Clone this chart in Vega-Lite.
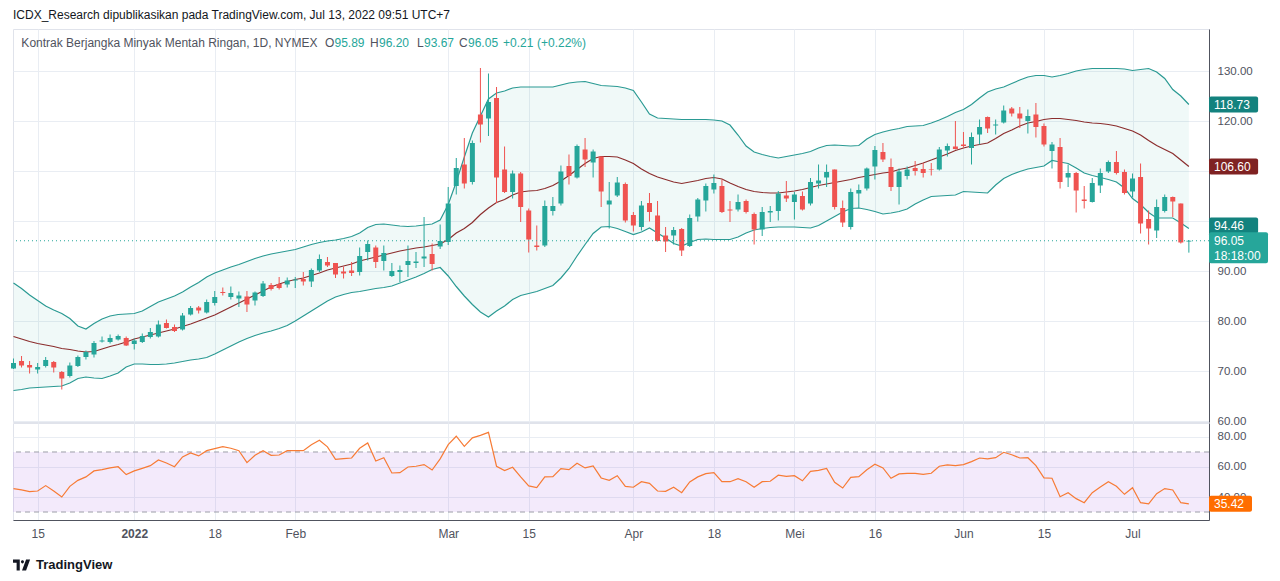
{
  "$schema": "https://vega.github.io/schema/vega-lite/v6.json",
  "autosize": {"type": "pad"},
  "padding": {"left": 10, "top": 8, "right": 15, "bottom": 10},
  "background": "white",
  "bounds": "flush",
  "spacing": 1,
  "config": {
    "font": "Liberation Sans",
    "view": {"stroke": "#e0e3eb"},
    "axis": {
      "gridColor": "#e9edf3",
      "labelColor": "#50535e",
      "labelFontSize": 11.5,
      "ticks": false,
      "tickSize": 0,
      "domainColor": "#50535e"
    }
  },
  "datasets": {
    "bars": [
      {"d":"2021-12-10","i":0,"o":70.5,"h":72.5,"l":70.4,"c":71.6,"up":87.6,"mid":76.9,"lo":66.1,"rsi":45.6},
      {"d":"2021-12-13","i":1,"o":72.0,"h":73.0,"l":70.7,"c":71.1,"up":86.5,"mid":76.4,"lo":66.3,"rsi":44.7},
      {"d":"2021-12-14","i":2,"o":71.2,"h":72.0,"l":69.5,"c":70.7,"up":85.2,"mid":75.9,"lo":66.6,"rsi":43.6},
      {"d":"2021-12-15","i":3,"o":70.3,"h":71.6,"l":69.5,"c":70.8,"up":84.1,"mid":75.5,"lo":66.7,"rsi":44.0},
      {"d":"2021-12-16","i":4,"o":71.0,"h":72.8,"l":70.7,"c":72.2,"up":83.0,"mid":75.2,"lo":66.8,"rsi":47.6},
      {"d":"2021-12-17","i":5,"o":71.8,"h":72.0,"l":69.7,"c":70.7,"up":82.2,"mid":74.9,"lo":66.9,"rsi":44.0},
      {"d":"2021-12-20","i":6,"o":69.8,"h":70.0,"l":66.3,"c":68.5,"up":81.5,"mid":74.5,"lo":67.0,"rsi":40.0},
      {"d":"2021-12-21","i":7,"o":69.0,"h":71.7,"l":68.7,"c":71.1,"up":80.5,"mid":74.3,"lo":67.6,"rsi":47.1},
      {"d":"2021-12-22","i":8,"o":71.0,"h":73.1,"l":70.8,"c":72.8,"up":79.0,"mid":74.0,"lo":68.5,"rsi":51.1},
      {"d":"2021-12-23","i":9,"o":72.8,"h":74.1,"l":72.3,"c":73.8,"up":78.4,"mid":73.8,"lo":68.8,"rsi":53.4},
      {"d":"2021-12-27","i":10,"o":73.3,"h":76.0,"l":72.7,"c":75.6,"up":79.5,"mid":73.9,"lo":68.6,"rsi":57.4},
      {"d":"2021-12-28","i":11,"o":75.9,"h":76.9,"l":75.7,"c":76.1,"up":80.4,"mid":74.4,"lo":68.5,"rsi":58.2},
      {"d":"2021-12-29","i":12,"o":75.8,"h":77.3,"l":75.5,"c":76.6,"up":81.0,"mid":74.9,"lo":69.0,"rsi":59.4},
      {"d":"2021-12-30","i":13,"o":76.3,"h":77.3,"l":76.1,"c":77.0,"up":81.3,"mid":75.3,"lo":69.6,"rsi":60.2},
      {"d":"2021-12-31","i":14,"o":76.6,"h":76.9,"l":75.0,"c":75.1,"up":81.4,"mid":75.8,"lo":70.8,"rsi":54.9},
      {"d":"2022-01-03","i":15,"o":75.4,"h":76.5,"l":74.3,"c":76.1,"up":81.5,"mid":76.4,"lo":71.4,"rsi":57.4},
      {"d":"2022-01-04","i":16,"o":75.8,"h":77.5,"l":75.6,"c":77.0,"up":82.0,"mid":76.8,"lo":71.4,"rsi":59.1},
      {"d":"2022-01-05","i":17,"o":76.8,"h":78.6,"l":76.5,"c":77.8,"up":82.9,"mid":77.2,"lo":71.3,"rsi":60.9},
      {"d":"2022-01-06","i":18,"o":76.9,"h":80.1,"l":76.7,"c":79.3,"up":83.8,"mid":77.6,"lo":71.3,"rsi":64.7},
      {"d":"2022-01-07","i":19,"o":79.6,"h":80.3,"l":78.5,"c":78.6,"up":84.4,"mid":78.0,"lo":71.4,"rsi":62.7},
      {"d":"2022-01-10","i":20,"o":78.8,"h":79.3,"l":77.8,"c":78.0,"up":85.0,"mid":78.4,"lo":71.6,"rsi":60.2},
      {"d":"2022-01-11","i":21,"o":78.3,"h":81.6,"l":78.1,"c":81.1,"up":85.8,"mid":78.9,"lo":71.9,"rsi":66.7},
      {"d":"2022-01-12","i":22,"o":81.3,"h":83.0,"l":81.1,"c":82.6,"up":86.8,"mid":79.4,"lo":72.2,"rsi":69.4},
      {"d":"2022-01-13","i":23,"o":82.7,"h":83.0,"l":81.5,"c":82.1,"up":87.7,"mid":80.0,"lo":72.4,"rsi":67.4},
      {"d":"2022-01-14","i":24,"o":81.7,"h":84.3,"l":81.5,"c":83.8,"up":88.8,"mid":80.6,"lo":72.7,"rsi":70.9},
      {"d":"2022-01-18","i":25,"o":83.6,"h":86.0,"l":83.1,"c":84.8,"up":89.6,"mid":81.2,"lo":73.4,"rsi":72.2},
      {"d":"2022-01-19","i":26,"o":85.8,"h":86.7,"l":85.1,"c":85.6,"up":90.2,"mid":82.0,"lo":74.2,"rsi":73.6},
      {"d":"2022-01-20","i":27,"o":84.8,"h":86.9,"l":84.3,"c":85.6,"up":90.8,"mid":82.8,"lo":75.0,"rsi":72.5},
      {"d":"2022-01-21","i":28,"o":84.5,"h":85.9,"l":82.8,"c":85.1,"up":91.3,"mid":83.6,"lo":75.8,"rsi":70.9},
      {"d":"2022-01-24","i":29,"o":84.9,"h":86.0,"l":81.8,"c":83.3,"up":91.9,"mid":84.4,"lo":76.5,"rsi":62.9},
      {"d":"2022-01-25","i":30,"o":84.1,"h":85.9,"l":83.1,"c":85.7,"up":92.5,"mid":85.2,"lo":77.1,"rsi":67.8},
      {"d":"2022-01-26","i":31,"o":85.0,"h":88.0,"l":84.8,"c":87.5,"up":93.0,"mid":86.0,"lo":77.6,"rsi":70.9},
      {"d":"2022-01-27","i":32,"o":87.2,"h":87.6,"l":86.1,"c":86.4,"up":93.4,"mid":86.8,"lo":78.0,"rsi":67.8},
      {"d":"2022-01-28","i":33,"o":87.4,"h":88.8,"l":86.3,"c":86.6,"up":93.7,"mid":87.4,"lo":78.5,"rsi":68.0},
      {"d":"2022-01-31","i":34,"o":87.3,"h":88.7,"l":86.7,"c":88.1,"up":94.0,"mid":87.9,"lo":79.1,"rsi":70.9},
      {"d":"2022-02-01","i":35,"o":88.1,"h":88.8,"l":86.6,"c":88.3,"up":94.3,"mid":88.3,"lo":80.0,"rsi":70.9},
      {"d":"2022-02-02","i":36,"o":88.4,"h":89.8,"l":87.1,"c":87.9,"up":94.8,"mid":88.6,"lo":81.0,"rsi":70.9},
      {"d":"2022-02-03","i":37,"o":87.9,"h":90.5,"l":86.8,"c":90.2,"up":95.3,"mid":89.1,"lo":82.0,"rsi":74.9},
      {"d":"2022-02-04","i":38,"o":90.1,"h":93.3,"l":89.8,"c":92.4,"up":95.7,"mid":89.6,"lo":83.0,"rsi":77.8},
      {"d":"2022-02-07","i":39,"o":91.8,"h":92.8,"l":90.8,"c":91.1,"up":96.0,"mid":90.2,"lo":84.0,"rsi":73.4},
      {"d":"2022-02-08","i":40,"o":91.6,"h":91.6,"l":88.6,"c":89.3,"up":96.2,"mid":90.6,"lo":84.8,"rsi":65.1},
      {"d":"2022-02-09","i":41,"o":89.9,"h":90.9,"l":88.5,"c":89.5,"up":96.5,"mid":91.0,"lo":85.3,"rsi":65.6},
      {"d":"2022-02-10","i":42,"o":90.1,"h":91.8,"l":89.0,"c":89.6,"up":96.9,"mid":91.4,"lo":85.7,"rsi":66.0},
      {"d":"2022-02-11","i":43,"o":89.8,"h":94.7,"l":89.1,"c":93.0,"up":97.6,"mid":92.0,"lo":85.9,"rsi":72.5},
      {"d":"2022-02-14","i":44,"o":93.8,"h":96.1,"l":92.1,"c":95.4,"up":98.7,"mid":92.4,"lo":86.2,"rsi":76.0},
      {"d":"2022-02-15","i":45,"o":94.7,"h":95.1,"l":90.6,"c":91.8,"up":99.3,"mid":92.8,"lo":86.5,"rsi":64.0},
      {"d":"2022-02-16","i":46,"o":92.0,"h":95.1,"l":90.1,"c":93.6,"up":99.4,"mid":93.2,"lo":86.7,"rsi":66.2},
      {"d":"2022-02-17","i":47,"o":89.0,"h":91.6,"l":88.8,"c":90.0,"up":99.2,"mid":93.6,"lo":87.0,"rsi":56.0},
      {"d":"2022-02-18","i":48,"o":89.8,"h":91.1,"l":87.8,"c":90.2,"up":99.0,"mid":94.0,"lo":87.6,"rsi":56.2},
      {"d":"2022-02-22","i":49,"o":91.2,"h":95.1,"l":88.8,"c":92.0,"up":98.9,"mid":94.3,"lo":88.2,"rsi":60.0},
      {"d":"2022-02-23","i":50,"o":91.6,"h":93.8,"l":90.6,"c":91.9,"up":99.0,"mid":94.6,"lo":88.8,"rsi":60.5},
      {"d":"2022-02-24","i":51,"o":92.5,"h":100.8,"l":90.8,"c":92.9,"up":99.2,"mid":94.8,"lo":89.5,"rsi":61.6},
      {"d":"2022-02-25","i":52,"o":93.4,"h":95.5,"l":90.1,"c":91.4,"up":99.4,"mid":95.1,"lo":90.3,"rsi":58.0},
      {"d":"2022-02-28","i":53,"o":94.9,"h":99.3,"l":94.4,"c":96.0,"up":100.2,"mid":95.4,"lo":90.7,"rsi":65.4},
      {"d":"2022-03-01","i":54,"o":95.8,"h":106.8,"l":95.2,"c":103.5,"up":103.3,"mid":96.3,"lo":89.0,"rsi":74.9},
      {"d":"2022-03-02","i":55,"o":107.0,"h":112.6,"l":105.3,"c":110.6,"up":107.8,"mid":97.6,"lo":86.9,"rsi":80.5},
      {"d":"2022-03-03","i":56,"o":111.3,"h":116.6,"l":106.5,"c":107.5,"up":112.8,"mid":98.5,"lo":85.0,"rsi":73.8},
      {"d":"2022-03-04","i":57,"o":107.8,"h":116.1,"l":107.3,"c":115.6,"up":117.6,"mid":99.7,"lo":83.3,"rsi":79.4},
      {"d":"2022-03-07","i":58,"o":121.3,"h":130.6,"l":115.7,"c":119.3,"up":121.0,"mid":101.3,"lo":81.8,"rsi":81.1},
      {"d":"2022-03-08","i":59,"o":120.5,"h":129.5,"l":117.0,"c":123.8,"up":124.4,"mid":102.6,"lo":80.8,"rsi":83.1},
      {"d":"2022-03-09","i":60,"o":124.6,"h":126.8,"l":103.6,"c":108.7,"up":125.6,"mid":103.7,"lo":82.0,"rsi":60.5},
      {"d":"2022-03-10","i":61,"o":110.3,"h":114.9,"l":105.6,"c":105.8,"up":126.0,"mid":104.3,"lo":83.0,"rsi":57.6},
      {"d":"2022-03-11","i":62,"o":105.8,"h":110.1,"l":104.5,"c":109.5,"up":126.6,"mid":105.2,"lo":84.3,"rsi":59.8},
      {"d":"2022-03-14","i":63,"o":109.5,"h":109.8,"l":99.8,"c":102.8,"up":126.8,"mid":105.8,"lo":85.1,"rsi":53.4},
      {"d":"2022-03-15","i":64,"o":102.1,"h":102.5,"l":93.7,"c":96.3,"up":126.8,"mid":106.0,"lo":85.5,"rsi":47.4},
      {"d":"2022-03-16","i":65,"o":95.1,"h":99.1,"l":94.1,"c":94.8,"up":126.8,"mid":106.1,"lo":85.9,"rsi":46.2},
      {"d":"2022-03-17","i":66,"o":95.1,"h":104.1,"l":94.8,"c":103.0,"up":126.8,"mid":106.5,"lo":86.5,"rsi":53.4},
      {"d":"2022-03-18","i":67,"o":102.0,"h":104.8,"l":101.1,"c":103.0,"up":126.8,"mid":107.1,"lo":87.1,"rsi":53.6},
      {"d":"2022-03-21","i":68,"o":103.5,"h":111.1,"l":103.1,"c":109.9,"up":127.2,"mid":108.0,"lo":88.6,"rsi":58.9},
      {"d":"2022-03-22","i":69,"o":111.0,"h":113.3,"l":107.3,"c":109.0,"up":127.6,"mid":109.1,"lo":90.5,"rsi":58.2},
      {"d":"2022-03-23","i":70,"o":108.7,"h":115.3,"l":108.5,"c":115.0,"up":127.8,"mid":110.3,"lo":93.0,"rsi":62.5},
      {"d":"2022-03-24","i":71,"o":114.3,"h":116.6,"l":110.8,"c":112.3,"up":127.9,"mid":111.5,"lo":95.3,"rsi":59.4},
      {"d":"2022-03-25","i":72,"o":111.7,"h":114.3,"l":108.7,"c":113.9,"up":127.5,"mid":112.5,"lo":97.5,"rsi":60.7},
      {"d":"2022-03-28","i":73,"o":112.9,"h":112.9,"l":102.8,"c":105.9,"up":127.1,"mid":112.9,"lo":98.8,"rsi":52.7},
      {"d":"2022-03-29","i":74,"o":103.3,"h":107.8,"l":98.5,"c":104.1,"up":127.0,"mid":112.9,"lo":98.9,"rsi":51.1},
      {"d":"2022-03-30","i":75,"o":105.1,"h":108.8,"l":104.8,"c":107.7,"up":126.9,"mid":112.8,"lo":98.5,"rsi":54.2},
      {"d":"2022-03-31","i":76,"o":107.4,"h":107.7,"l":99.7,"c":100.1,"up":126.6,"mid":112.2,"lo":97.9,"rsi":47.1},
      {"d":"2022-04-01","i":77,"o":101.2,"h":101.8,"l":97.9,"c":99.1,"up":126.1,"mid":111.5,"lo":97.3,"rsi":46.5},
      {"d":"2022-04-04","i":78,"o":98.8,"h":104.0,"l":98.1,"c":103.1,"up":123.8,"mid":110.4,"lo":97.8,"rsi":50.2},
      {"d":"2022-04-05","i":79,"o":103.6,"h":105.6,"l":99.9,"c":101.8,"up":121.4,"mid":109.5,"lo":98.6,"rsi":49.1},
      {"d":"2022-04-06","i":80,"o":101.1,"h":104.0,"l":95.9,"c":96.0,"up":120.6,"mid":108.8,"lo":97.6,"rsi":44.0},
      {"d":"2022-04-07","i":81,"o":97.1,"h":98.8,"l":93.8,"c":95.9,"up":120.5,"mid":108.3,"lo":96.6,"rsi":43.8},
      {"d":"2022-04-08","i":82,"o":97.1,"h":98.8,"l":95.3,"c":98.2,"up":120.4,"mid":107.8,"lo":95.5,"rsi":46.5},
      {"d":"2022-04-11","i":83,"o":98.4,"h":98.6,"l":93.0,"c":94.1,"up":120.3,"mid":107.5,"lo":95.0,"rsi":42.9},
      {"d":"2022-04-12","i":84,"o":95.0,"h":101.3,"l":94.8,"c":100.6,"up":120.3,"mid":107.8,"lo":95.7,"rsi":50.0},
      {"d":"2022-04-13","i":85,"o":100.9,"h":104.6,"l":99.9,"c":104.3,"up":120.3,"mid":108.1,"lo":96.3,"rsi":53.4},
      {"d":"2022-04-14","i":86,"o":104.1,"h":107.5,"l":101.9,"c":107.0,"up":120.3,"mid":108.5,"lo":96.4,"rsi":55.6},
      {"d":"2022-04-18","i":87,"o":106.3,"h":109.3,"l":105.5,"c":107.6,"up":120.2,"mid":108.7,"lo":96.3,"rsi":56.2},
      {"d":"2022-04-19","i":88,"o":107.0,"h":108.3,"l":101.6,"c":101.8,"up":120.0,"mid":108.4,"lo":96.3,"rsi":50.2},
      {"d":"2022-04-20","i":89,"o":102.3,"h":104.0,"l":99.8,"c":102.1,"up":119.2,"mid":107.6,"lo":96.3,"rsi":50.2},
      {"d":"2022-04-21","i":90,"o":102.3,"h":105.3,"l":101.9,"c":103.8,"up":117.2,"mid":106.9,"lo":96.8,"rsi":52.2},
      {"d":"2022-04-22","i":91,"o":104.0,"h":104.3,"l":101.5,"c":101.8,"up":115.0,"mid":106.3,"lo":97.6,"rsi":50.2},
      {"d":"2022-04-25","i":92,"o":101.4,"h":101.7,"l":95.3,"c":98.3,"up":113.8,"mid":105.9,"lo":98.2,"rsi":46.5},
      {"d":"2022-04-26","i":93,"o":98.3,"h":102.8,"l":97.0,"c":101.8,"up":113.3,"mid":105.7,"lo":98.5,"rsi":50.2},
      {"d":"2022-04-27","i":94,"o":101.7,"h":103.0,"l":99.8,"c":102.0,"up":112.9,"mid":105.6,"lo":98.7,"rsi":50.5},
      {"d":"2022-04-28","i":95,"o":102.0,"h":106.0,"l":100.1,"c":105.5,"up":112.6,"mid":105.6,"lo":98.8,"rsi":54.5},
      {"d":"2022-04-29","i":96,"o":105.1,"h":108.0,"l":103.8,"c":104.5,"up":112.9,"mid":105.8,"lo":98.8,"rsi":53.8},
      {"d":"2022-05-02","i":97,"o":103.8,"h":105.8,"l":100.3,"c":105.3,"up":113.2,"mid":106.0,"lo":98.8,"rsi":54.2},
      {"d":"2022-05-03","i":98,"o":105.0,"h":105.9,"l":102.1,"c":102.3,"up":113.5,"mid":106.3,"lo":98.7,"rsi":50.8},
      {"d":"2022-05-04","i":99,"o":103.5,"h":108.6,"l":103.1,"c":107.8,"up":113.9,"mid":106.7,"lo":98.6,"rsi":57.1},
      {"d":"2022-05-05","i":100,"o":107.5,"h":111.3,"l":106.5,"c":108.1,"up":114.6,"mid":107.1,"lo":99.1,"rsi":57.8},
      {"d":"2022-05-06","i":101,"o":108.7,"h":111.3,"l":106.8,"c":109.8,"up":115.1,"mid":107.4,"lo":100.0,"rsi":59.1},
      {"d":"2022-05-09","i":102,"o":110.3,"h":110.3,"l":102.3,"c":102.8,"up":115.2,"mid":107.7,"lo":100.9,"rsi":49.8},
      {"d":"2022-05-10","i":103,"o":102.6,"h":104.1,"l":98.8,"c":99.7,"up":115.1,"mid":108.0,"lo":101.8,"rsi":46.0},
      {"d":"2022-05-11","i":104,"o":98.8,"h":106.5,"l":98.3,"c":105.8,"up":115.0,"mid":108.3,"lo":102.5,"rsi":53.1},
      {"d":"2022-05-12","i":105,"o":105.5,"h":107.3,"l":102.6,"c":106.2,"up":115.1,"mid":108.7,"lo":102.6,"rsi":53.6},
      {"d":"2022-05-13","i":106,"o":106.5,"h":110.7,"l":106.1,"c":110.5,"up":116.4,"mid":109.0,"lo":102.3,"rsi":58.2},
      {"d":"2022-05-16","i":107,"o":110.9,"h":115.0,"l":108.3,"c":114.2,"up":117.3,"mid":109.3,"lo":101.9,"rsi":61.8},
      {"d":"2022-05-17","i":108,"o":113.8,"h":115.6,"l":111.8,"c":112.3,"up":117.8,"mid":109.6,"lo":101.4,"rsi":59.4},
      {"d":"2022-05-18","i":109,"o":110.8,"h":112.5,"l":106.0,"c":106.8,"up":118.2,"mid":109.8,"lo":101.6,"rsi":52.5},
      {"d":"2022-05-19","i":110,"o":106.8,"h":110.5,"l":103.3,"c":109.9,"up":118.5,"mid":110.3,"lo":101.9,"rsi":55.4},
      {"d":"2022-05-20","i":111,"o":109.0,"h":110.9,"l":108.3,"c":110.3,"up":118.9,"mid":110.6,"lo":102.4,"rsi":55.8},
      {"d":"2022-05-23","i":112,"o":110.6,"h":112.0,"l":109.1,"c":110.0,"up":119.0,"mid":111.1,"lo":103.4,"rsi":55.8},
      {"d":"2022-05-24","i":113,"o":110.4,"h":111.6,"l":108.7,"c":109.6,"up":119.1,"mid":111.6,"lo":104.2,"rsi":55.1},
      {"d":"2022-05-25","i":114,"o":110.3,"h":111.6,"l":109.1,"c":110.2,"up":119.6,"mid":112.2,"lo":104.9,"rsi":55.8},
      {"d":"2022-05-26","i":115,"o":110.3,"h":114.8,"l":110.1,"c":114.3,"up":120.2,"mid":112.8,"lo":105.0,"rsi":60.5},
      {"d":"2022-05-27","i":116,"o":114.1,"h":115.5,"l":112.9,"c":115.0,"up":120.9,"mid":113.4,"lo":105.1,"rsi":61.4},
      {"d":"2022-05-31","i":117,"o":114.9,"h":120.0,"l":114.3,"c":114.4,"up":121.7,"mid":114.1,"lo":105.2,"rsi":60.9},
      {"d":"2022-06-01","i":118,"o":115.3,"h":117.8,"l":114.7,"c":115.0,"up":122.3,"mid":114.6,"lo":105.9,"rsi":61.6},
      {"d":"2022-06-02","i":119,"o":114.6,"h":117.7,"l":111.3,"c":116.8,"up":123.3,"mid":115.0,"lo":105.8,"rsi":63.6},
      {"d":"2022-06-03","i":120,"o":117.3,"h":120.3,"l":115.3,"c":118.8,"up":124.6,"mid":115.3,"lo":105.7,"rsi":66.0},
      {"d":"2022-06-06","i":121,"o":120.8,"h":120.9,"l":117.6,"c":118.5,"up":125.8,"mid":115.6,"lo":105.6,"rsi":65.4},
      {"d":"2022-06-07","i":122,"o":119.1,"h":120.3,"l":117.3,"c":119.3,"up":126.4,"mid":116.5,"lo":107.2,"rsi":66.2},
      {"d":"2022-06-08","i":123,"o":119.7,"h":123.1,"l":119.5,"c":122.1,"up":126.8,"mid":117.5,"lo":108.5,"rsi":69.8},
      {"d":"2022-06-09","i":124,"o":122.5,"h":122.8,"l":120.9,"c":121.5,"up":127.5,"mid":118.2,"lo":109.3,"rsi":68.2},
      {"d":"2022-06-10","i":125,"o":121.5,"h":122.8,"l":118.6,"c":120.5,"up":128.2,"mid":119.0,"lo":109.9,"rsi":66.0},
      {"d":"2022-06-13","i":126,"o":120.0,"h":122.3,"l":117.5,"c":121.0,"up":128.8,"mid":119.6,"lo":110.4,"rsi":66.2},
      {"d":"2022-06-14","i":127,"o":121.3,"h":123.6,"l":116.7,"c":118.8,"up":129.1,"mid":119.9,"lo":110.7,"rsi":60.9},
      {"d":"2022-06-15","i":128,"o":119.0,"h":119.5,"l":114.9,"c":115.3,"up":129.1,"mid":120.3,"lo":111.0,"rsi":52.7},
      {"d":"2022-06-16","i":129,"o":114.0,"h":115.8,"l":110.5,"c":115.3,"up":128.8,"mid":120.5,"lo":112.1,"rsi":52.5},
      {"d":"2022-06-17","i":130,"o":114.8,"h":116.6,"l":106.5,"c":107.8,"up":129.1,"mid":120.5,"lo":111.8,"rsi":40.2},
      {"d":"2022-06-21","i":131,"o":108.7,"h":111.3,"l":106.8,"c":109.6,"up":129.5,"mid":120.3,"lo":111.5,"rsi":42.9},
      {"d":"2022-06-22","i":132,"o":109.6,"h":109.8,"l":101.7,"c":106.1,"up":130.0,"mid":120.1,"lo":110.6,"rsi":38.9},
      {"d":"2022-06-23","i":133,"o":104.3,"h":107.0,"l":102.5,"c":104.0,"up":130.3,"mid":119.8,"lo":109.6,"rsi":36.2},
      {"d":"2022-06-24","i":134,"o":103.8,"h":108.6,"l":103.7,"c":107.6,"up":130.5,"mid":119.6,"lo":109.1,"rsi":42.9},
      {"d":"2022-06-27","i":135,"o":107.1,"h":110.5,"l":105.6,"c":109.6,"up":130.5,"mid":119.5,"lo":108.7,"rsi":46.7},
      {"d":"2022-06-28","i":136,"o":109.9,"h":112.1,"l":109.6,"c":111.8,"up":130.5,"mid":119.3,"lo":108.3,"rsi":50.2},
      {"d":"2022-06-29","i":137,"o":111.8,"h":114.0,"l":109.3,"c":109.6,"up":130.5,"mid":119.0,"lo":107.8,"rsi":47.1},
      {"d":"2022-06-30","i":138,"o":109.8,"h":110.3,"l":105.3,"c":105.6,"up":130.4,"mid":118.5,"lo":106.6,"rsi":41.8},
      {"d":"2022-07-01","i":139,"o":105.9,"h":109.5,"l":104.7,"c":108.5,"up":130.1,"mid":118.0,"lo":104.5,"rsi":46.2},
      {"d":"2022-07-05","i":140,"o":108.8,"h":111.5,"l":97.5,"c":99.5,"up":130.3,"mid":117.2,"lo":103.3,"rsi":36.2},
      {"d":"2022-07-06","i":141,"o":100.4,"h":102.1,"l":95.3,"c":98.5,"up":130.5,"mid":116.1,"lo":101.7,"rsi":35.4},
      {"d":"2022-07-07","i":142,"o":98.1,"h":104.3,"l":96.6,"c":102.8,"up":129.8,"mid":115.1,"lo":100.6,"rsi":42.2},
      {"d":"2022-07-08","i":143,"o":102.0,"h":105.3,"l":101.7,"c":104.8,"up":128.5,"mid":114.3,"lo":100.6,"rsi":45.6},
      {"d":"2022-07-11","i":144,"o":104.8,"h":104.9,"l":100.8,"c":103.9,"up":126.3,"mid":113.5,"lo":100.6,"rsi":44.7},
      {"d":"2022-07-12","i":145,"o":103.5,"h":103.5,"l":95.5,"c":95.7,"up":125.0,"mid":112.2,"lo":99.6,"rsi":36.2},
      {"d":"2022-07-13","i":146,"o":95.89,"h":96.2,"l":93.67,"c":96.05,"up":123.3,"mid":110.9,"lo":98.5,"rsi":35.42}
    ]
  },
  "vconcat": [
    {
      "width": 1196,
      "height": 393,
      "data": {"name": "bars"},
      "layer": [
        {
          "mark": {"type": "area", "color": "#26a69a", "opacity": 0.07},
          "encoding": {
            "x": {
              "field": "i", "type": "quantitative", "title": null,
              "scale": {"domain": [-0.06, 148.5], "nice": false, "zero": false, "padding": 0},
              "axis": {"orient": "bottom", "values": [3, 15, 25, 35, 54, 64, 77, 87, 97, 107, 118, 128, 139], "labels": false, "domain": false, "grid": true}
            },
            "y": {
              "field": "up", "type": "quantitative", "title": null,
              "scale": {"domain": [59.8, 138.4], "nice": false, "zero": false, "padding": 0},
              "axis": {
                "orient": "right",
                "values": [60, 70, 80, 90, 100, 110, 120, 130],
                "labelExpr": "datum.value == 100 || datum.value == 110 ? '' : format(datum.value, '.2f')",
                "labelPadding": 8,
                "grid": true
              }
            },
            "y2": {"field": "lo"}
          }
        },
        {
          "mark": {"type": "line", "color": "#2a9a93", "strokeWidth": 1.2},
          "encoding": {
            "x": {"field": "i", "type": "quantitative", "title": null},
            "y": {"field": "up", "type": "quantitative", "title": null}
          }
        },
        {
          "mark": {"type": "line", "color": "#2a9a93", "strokeWidth": 1.2},
          "encoding": {
            "x": {"field": "i", "type": "quantitative", "title": null},
            "y": {"field": "lo", "type": "quantitative", "title": null}
          }
        },
        {
          "mark": {"type": "line", "color": "#8b2d2d", "strokeWidth": 1.2},
          "encoding": {
            "x": {"field": "i", "type": "quantitative", "title": null},
            "y": {"field": "mid", "type": "quantitative", "title": null}
          }
        },
        {
          "mark": {"type": "rule", "strokeWidth": 1},
          "encoding": {
            "x": {"field": "i", "type": "quantitative", "title": null},
            "y": {"field": "l", "type": "quantitative", "title": null},
            "y2": {"field": "h"},
            "color": {"condition": {"test": "datum.c >= datum.o", "value": "#26a69a"}, "value": "#ef5350"}
          }
        },
        {
          "mark": {"type": "bar", "width": 5},
          "encoding": {
            "x": {"field": "i", "type": "quantitative", "title": null},
            "y": {"field": "o", "type": "quantitative", "title": null},
            "y2": {"field": "c"},
            "color": {"condition": {"test": "datum.c >= datum.o", "value": "#26a69a"}, "value": "#ef5350"}
          }
        },
        {
          "data": {"values": [{"v": 96.05}]},
          "mark": {"type": "rule", "color": "#26a69a", "strokeDash": [1, 3], "strokeWidth": 1},
          "encoding": {"y": {"field": "v", "type": "quantitative", "title": null}}
        },
        {
          "data": {"values": [
            {"s": "upper", "t": "118.73", "end": 123.3},
            {"s": "basis", "t": "106.60", "end": 110.9},
            {"s": "lower", "t": "94.46", "end": 99.1}
          ]},
          "mark": {"type": "bar", "height": 16, "cornerRadius": 2},
          "encoding": {
            "x": {"datum": 148.5},
            "x2": {"datum": 154.6},
            "y": {"field": "end", "type": "quantitative", "title": null},
            "color": {"field": "s", "type": "nominal", "legend": null, "scale": {"domain": ["upper", "basis", "lower"], "range": ["#13827e", "#7f2222", "#13827e"]}}
          }
        },
        {
          "data": {"values": [
            {"t": "118.73", "end": 123.3},
            {"t": "106.60", "end": 110.9},
            {"t": "94.46", "end": 99.1}
          ]},
          "mark": {"type": "text", "align": "left", "baseline": "middle", "dx": 5, "fontSize": 12, "color": "white"},
          "encoding": {
            "x": {"datum": 148.5},
            "y": {"field": "end", "type": "quantitative", "title": null},
            "text": {"field": "t"}
          }
        },
        {
          "data": {"values": [{"v": 96.05, "t": "96.05", "cd": "18:18:00"}]},
          "mark": {"type": "bar", "height": 31, "yOffset": 7, "cornerRadius": 2, "color": "#26a69a"},
          "encoding": {
            "x": {"datum": 148.5},
            "x2": {"datum": 155.83},
            "y": {"field": "v", "type": "quantitative", "title": null}
          }
        },
        {
          "data": {"values": [{"v": 96.05, "t": "96.05", "cd": "18:18:00"}]},
          "mark": {"type": "text", "align": "left", "baseline": "middle", "dx": 5, "fontSize": 12, "color": "white"},
          "encoding": {
            "x": {"datum": 148.5},
            "y": {"field": "v", "type": "quantitative", "title": null},
            "text": {"field": "t"}
          }
        },
        {
          "data": {"values": [{"v": 96.05, "t": "96.05", "cd": "18:18:00"}]},
          "mark": {"type": "text", "align": "left", "baseline": "middle", "dx": 5, "dy": 15, "fontSize": 12, "color": "white"},
          "encoding": {
            "x": {"datum": 148.5},
            "y": {"field": "v", "type": "quantitative", "title": null},
            "text": {"field": "cd"}
          }
        },
        {
          "data": {"values": [{"t": "ICDX_Research dipublikasikan pada TradingView.com, Jul 13, 2022 09:51 UTC+7"}]},
          "mark": {"type": "text", "align": "left", "baseline": "top", "fontSize": 12, "color": "#131722"},
          "encoding": {"x": {"datum": -0.06}, "y": {"datum": 142.2}, "text": {"field": "t"}}
        },
        {
          "data": {"values": [{"t": "Kontrak Berjangka Minyak Mentah Ringan, 1D, NYMEX"}]},
          "mark": {"type": "text", "align": "left", "baseline": "middle", "fontSize": 12, "color": "#50535e"},
          "encoding": {"x": {"datum": 0.98}, "y": {"datum": 135.6}, "text": {"field": "t"}}
        },
        {
          "data": {"values": [{"t": "O"}]},
          "mark": {"type": "text", "align": "left", "baseline": "middle", "fontSize": 12, "color": "#50535e"},
          "encoding": {"x": {"datum": 38.7}, "y": {"datum": 135.6}, "text": {"field": "t"}}
        },
        {
          "data": {"values": [{"t": "95.89"}]},
          "mark": {"type": "text", "align": "left", "baseline": "middle", "fontSize": 12, "color": "#26a69a"},
          "encoding": {"x": {"datum": 39.87}, "y": {"datum": 135.6}, "text": {"field": "t"}}
        },
        {
          "data": {"values": [{"t": "H"}]},
          "mark": {"type": "text", "align": "left", "baseline": "middle", "fontSize": 12, "color": "#50535e"},
          "encoding": {"x": {"datum": 44.28}, "y": {"datum": 135.6}, "text": {"field": "t"}}
        },
        {
          "data": {"values": [{"t": "96.20"}]},
          "mark": {"type": "text", "align": "left", "baseline": "middle", "fontSize": 12, "color": "#26a69a"},
          "encoding": {"x": {"datum": 45.4}, "y": {"datum": 135.6}, "text": {"field": "t"}}
        },
        {
          "data": {"values": [{"t": "L"}]},
          "mark": {"type": "text", "align": "left", "baseline": "middle", "fontSize": 12, "color": "#50535e"},
          "encoding": {"x": {"datum": 50.12}, "y": {"datum": 135.6}, "text": {"field": "t"}}
        },
        {
          "data": {"values": [{"t": "93.67"}]},
          "mark": {"type": "text", "align": "left", "baseline": "middle", "fontSize": 12, "color": "#26a69a"},
          "encoding": {"x": {"datum": 50.99}, "y": {"datum": 135.6}, "text": {"field": "t"}}
        },
        {
          "data": {"values": [{"t": "C"}]},
          "mark": {"type": "text", "align": "left", "baseline": "middle", "fontSize": 12, "color": "#50535e"},
          "encoding": {"x": {"datum": 55.34}, "y": {"datum": 135.6}, "text": {"field": "t"}}
        },
        {
          "data": {"values": [{"t": "96.05"}]},
          "mark": {"type": "text", "align": "left", "baseline": "middle", "fontSize": 12, "color": "#26a69a"},
          "encoding": {"x": {"datum": 56.46}, "y": {"datum": 135.6}, "text": {"field": "t"}}
        },
        {
          "data": {"values": [{"t": "+0.21"}]},
          "mark": {"type": "text", "align": "left", "baseline": "middle", "fontSize": 12, "color": "#26a69a"},
          "encoding": {"x": {"datum": 60.81}, "y": {"datum": 135.6}, "text": {"field": "t"}}
        },
        {
          "data": {"values": [{"t": "(+0.22%)"}]},
          "mark": {"type": "text", "align": "left", "baseline": "middle", "fontSize": 12, "color": "#26a69a"},
          "encoding": {"x": {"datum": 65.03}, "y": {"datum": 135.6}, "text": {"field": "t"}}
        }
      ]
    },
    {
      "width": 1196,
      "height": 97,
      "data": {"name": "bars"},
      "layer": [
        {
          "data": {"values": [{"a": 70, "b": 30}]},
          "mark": {"type": "rect", "color": "#9c4fe0", "opacity": 0.12},
          "encoding": {
            "y": {
              "field": "a", "type": "quantitative", "title": null,
              "scale": {"domain": [24.67, 89.33], "nice": false, "zero": false, "padding": 0},
              "axis": {"orient": "right", "values": [40, 60, 80], "format": ".2f", "labelPadding": 8, "grid": true}
            },
            "y2": {"field": "b"}
          }
        },
        {
          "data": {"values": [{"v": 70}, {"v": 30}]},
          "mark": {"type": "rule", "color": "#9c9ea8", "strokeDash": [5, 4], "strokeWidth": 1},
          "encoding": {"y": {"field": "v", "type": "quantitative", "title": null}}
        },
        {
          "mark": {"type": "line", "color": "#f77b35", "strokeWidth": 1.2},
          "encoding": {
            "x": {
              "field": "i", "type": "quantitative", "title": null,
              "scale": {"domain": [-0.06, 148.5], "nice": false, "zero": false, "padding": 0},
              "axis": {
                "orient": "bottom",
                "values": [3, 15, 25, 35, 54, 64, 77, 87, 97, 107, 118, 128, 139],
                "labelExpr": "['15','2022','18','Feb','Mar','15','Apr','18','Mei','16','Jun','15','Jul'][indexof([3,15,25,35,54,64,77,87,97,107,118,128,139], datum.value)]",
                "labelFontSize": 12,
                "labelPadding": 8,
                "labelFontWeight": {"condition": {"test": "datum.value === 15", "value": "bold"}, "value": "normal"},
                "grid": true,
                "domain": true
              }
            },
            "y": {"field": "rsi", "type": "quantitative", "title": null}
          }
        },
        {
          "data": {"values": [{"v": 35.42, "t": "35.42"}]},
          "mark": {"type": "bar", "height": 16, "cornerRadius": 2, "color": "#ff6d00"},
          "encoding": {
            "x": {"datum": 148.5},
            "x2": {"datum": 153.84},
            "y": {"field": "v", "type": "quantitative", "title": null}
          }
        },
        {
          "data": {"values": [{"v": 35.42, "t": "35.42"}]},
          "mark": {"type": "text", "align": "left", "baseline": "middle", "dx": 5, "fontSize": 12, "color": "white"},
          "encoding": {
            "x": {"datum": 148.5},
            "y": {"field": "v", "type": "quantitative", "title": null},
            "text": {"field": "t"}
          }
        },
        {
          "data": {"values": [{"t": "logo"}]},
          "mark": {
            "type": "point", "filled": true, "opacity": 1, "color": "#131722", "size": 324,
            "shape": "M-1,-0.6 L-0.25,-0.6 L-0.25,0.6 L-0.6,0.6 L-0.6,-0.25 L-1,-0.25 Z M-0.12,-0.35 A0.17,0.17 0 1 0 0.22,-0.35 A0.17,0.17 0 1 0 -0.12,-0.35 Z M0.45,-0.6 L0.9,-0.6 L0.45,0.6 L0,0.6 Z"
          },
          "encoding": {"x": {"datum": 1.06}, "y": {"datum": -5.33}}
        },
        {
          "data": {"values": [{"t": "TradingView"}]},
          "mark": {"type": "text", "align": "left", "baseline": "middle", "fontSize": 13, "fontWeight": "bold", "color": "#131722"},
          "encoding": {"x": {"datum": 2.8}, "y": {"datum": -5.33}, "text": {"field": "t"}}
        }
      ]
    }
  ]
}
